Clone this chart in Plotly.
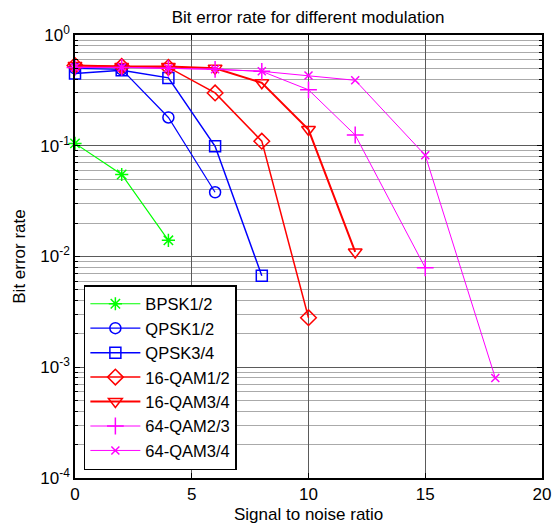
import plotly.graph_objects as go

# ---- data ----
snr_bpsk12 = [0, 2, 4]
ber_bpsk12 = [0.105, 0.055, 0.014]

snr_qpsk12 = [0, 2, 4, 6]
ber_qpsk12 = [0.50, 0.49, 0.18, 0.038]

snr_qpsk34 = [0, 2, 4, 6, 8]
ber_qpsk34 = [0.45, 0.48, 0.41, 0.099, 0.0067]

snr_qam16_12 = [0, 2, 4, 6, 8, 10]
ber_qam16_12 = [0.53, 0.52, 0.51, 0.30, 0.11, 0.0028]

snr_qam16_34 = [0, 2, 4, 6, 8, 10, 12]
ber_qam16_34 = [0.53, 0.52, 0.52, 0.50, 0.37, 0.14, 0.011]

snr_qam64_23 = [0, 2, 4, 6, 8, 10, 12, 15]
ber_qam64_23 = [0.51, 0.51, 0.50, 0.49, 0.47, 0.32, 0.125, 0.0079]

snr_qam64_34 = [0, 2, 4, 6, 8, 10, 12, 15, 18]
ber_qam64_34 = [0.51, 0.51, 0.50, 0.49, 0.47, 0.43, 0.39, 0.082, 0.0008]

names = ["BPSK1/2", "QPSK1/2", "QPSK3/4", "16-QAM1/2", "16-QAM3/4", "64-QAM2/3", "64-QAM3/4"]

y_tickvals = [1e-4, 1e-3, 1e-2, 1e-1, 1]
y_ticktext = ["10<sup>-4</sup>", "10<sup>-3</sup>", "10<sup>-2</sup>", "10<sup>-1</sup>", "10<sup>0</sup>"]
x_tickvals = [0, 5, 10, 15, 20]

series = [
    (snr_bpsk12, ber_bpsk12, "#00ff00", "asterisk-open", 11, 1.2),
    (snr_qpsk12, ber_qpsk12, "#0000ff", "circle-open", 11, 1.2),
    (snr_qpsk34, ber_qpsk34, "#0000ff", "square-open", 11, 1.5),
    (snr_qam16_12, ber_qam16_12, "#ff0000", "diamond-open", 12, 1.5),
    (snr_qam16_34, ber_qam16_34, "#ff0000", "triangle-down-open", 12, 2),
    (snr_qam64_23, ber_qam64_23, "#ff00ff", "cross-thin-open", 12, 1),
    (snr_qam64_34, ber_qam64_34, "#ff00ff", "x-thin-open", 8, 1),
]

FONT = "Liberation Sans, Arial, sans-serif"
FS = 17

fig = go.Figure()
for (x, y, col, sym, sz, lw), nm in zip(series, names):
    fig.add_trace(go.Scatter(
        x=x, y=y, name=nm, mode="lines+markers",
        line=dict(color=col, width=lw),
        marker=dict(symbol=sym, size=sz, color=col, line=dict(color=col, width=1.5)),
        cliponaxis=False,
    ))

axis_common = dict(
    showline=True, linecolor="black", linewidth=1.5, mirror="ticks",
    ticks="inside", ticklen=5, tickcolor="black",
    showgrid=True, gridcolor="#5a5a5a", gridwidth=1,
    zeroline=False, automargin=False,
    tickfont=dict(family=FONT, size=FS, color="black"),
)

fig.update_xaxes(range=[0, 20], tickvals=x_tickvals, **axis_common)
fig.update_yaxes(
    type="log", range=[-4, 0], tickvals=y_tickvals, ticktext=y_ticktext,
    title=dict(text="Bit error rate", font=dict(family=FONT, size=FS, color="black"), standoff=10),
    minor=dict(ticks="inside", ticklen=3, tickcolor="black", showgrid=True,
               gridcolor="#aaaaaa", gridwidth=1, dtick="D1"),
    **axis_common,
)

fig.add_annotation(
    text="Signal to noise ratio", xref="paper", yref="paper", x=0.5, y=-0.083,
    xanchor="center", yanchor="middle", showarrow=False,
    font=dict(family=FONT, size=FS, color="black"),
)

fig.update_layout(
    width=557, height=526,
    margin=dict(l=75, r=15, t=35, b=48),
    paper_bgcolor="white", plot_bgcolor="white",
    title=dict(text="Bit error rate for different modulation", x=0.553, xanchor="center",
               y=0.968, yanchor="middle", font=dict(family=FONT, size=FS, color="black")),
    font=dict(family=FONT, size=FS, color="black"),
    legend=dict(
        x=0.019, y=0.018, xanchor="left", yanchor="bottom",
        bgcolor="white", bordercolor="black", borderwidth=1.5,
        font=dict(family=FONT, size=16.5, color="black"),
        tracegroupgap=0, itemwidth=50,
    ),
    showlegend=True,
)

fig.write_html("out.html", config={"displayModeBar": False},
               post_script="document.body.style.margin='0';document.body.style.overflow='hidden';")
